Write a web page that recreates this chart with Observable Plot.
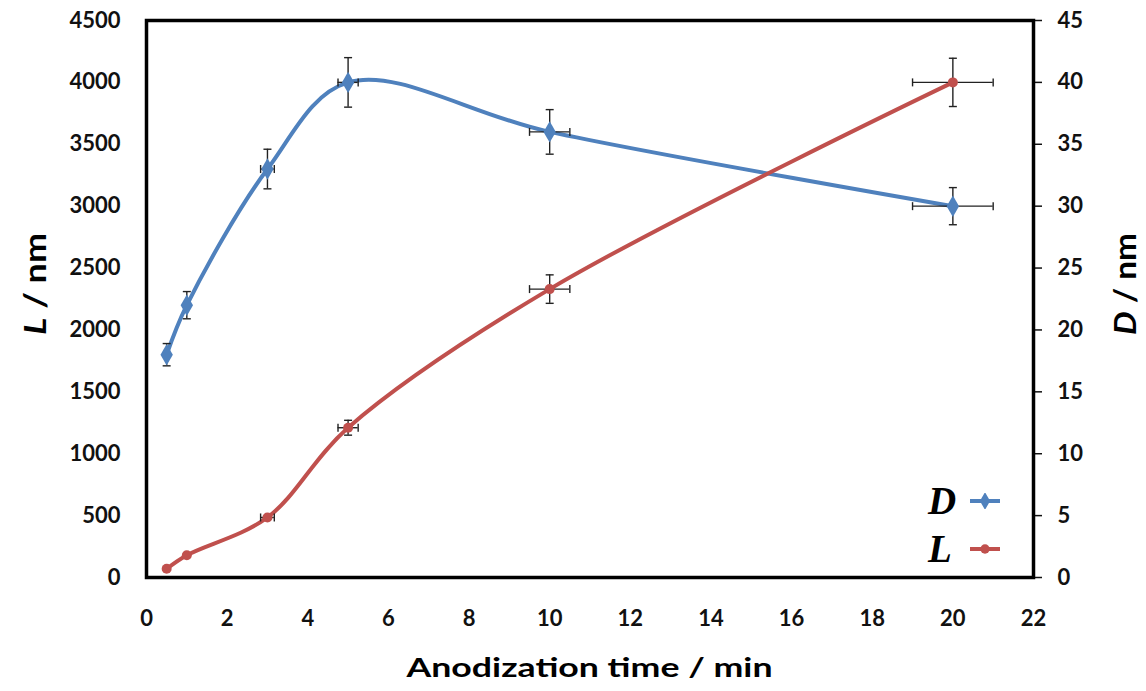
<!DOCTYPE html>
<html>
<head>
<meta charset="utf-8">
<script src="https://cdn.jsdelivr.net/npm/d3@7"></script>
<script src="https://cdn.jsdelivr.net/npm/@observablehq/plot@0.6"></script>
<style>
  html, body { margin: 0; padding: 0; background: #fff; }
  #wrap { position: relative; width: 1146px; height: 691px; }
  #legend { position: absolute; left: 928px; top: 477px; font-family: "Liberation Serif", "Times New Roman", serif; font-weight: bold; font-style: italic; font-size: 39px; line-height: 48px; }
  #legend .row { display: flex; align-items: center; height: 48px; }
  #legend .lab { width: 34px; text-align: left; }
  #legend svg { margin-left: 6px; }
</style>
</head>
<body>
<div id="wrap"><div id="chart"></div><div id="legend"></div></div>
<script>
// Data
const times = [0.5, 1, 3, 5, 10, 20];              // Anodization time / min
const dValues = [18, 22, 33, 40, 36, 30];          // D / nm (right axis)
const lValues = [70, 180, 485, 1210, 2330, 4000];  // L / nm (left axis)
const dErr = [0.9, 1.1, 1.6, 2.0, 1.8, 1.5];        // D vertical error
const lErr = [0, 0, 0, 60, 115, 195];               // L vertical error
const tErrD = [0, 0, 0.17, 0.25, 0.5, 1.0];         // time error on D points
const tErrL = [0, 0, 0.17, 0.25, 0.5, 1.0];         // time error on L points
const xTicks = [0, 2, 4, 6, 8, 10, 12, 14, 16, 18, 20, 22];
const lTicks = [0, 500, 1000, 1500, 2000, 2500, 3000, 3500, 4000, 4500];
const dTicks = [0, 5, 10, 15, 20, 25, 30, 35, 40, 45];
const K = 100; // D axis (0–45) maps onto L axis (0–4500)

const blue = "#4F81BD", red = "#C0504D", errColor = "#222";

const D = times.map((t, i) => ({t, v: dValues[i] * K, e: dErr[i] * K, te: tErrD[i]}));
const L = times.map((t, i) => ({t, v: lValues[i], e: lErr[i], te: tErrL[i]}));
const all = [...D, ...L];
const vErr = all.filter(d => d.e > 0);
const hErr = all.filter(d => d.te > 0);

const capH = {draw(ctx, size) { const r = Math.sqrt(size / Math.PI); ctx.moveTo(-r, 0); ctx.lineTo(r, 0); }};
const capV = {draw(ctx, size) { const r = Math.sqrt(size / Math.PI); ctx.moveTo(0, -r); ctx.lineTo(0, r); }};

const font = "Lato, 'Open Sans', sans-serif";
const fmt = v => String(v);

const chart = Plot.plot({
  width: 1146, height: 691,
  marginLeft: 146, marginRight: 113, marginTop: 20, marginBottom: 114,
  x: {domain: [0, 22]},
  y: {domain: [0, 4500]},
  style: {fontFamily: font, background: "white", color: "#111"},
  marks: [
    Plot.axisX(xTicks, {tickSize: 0, tickPadding: 33, label: null, tickFormat: fmt, fontSize: 22, fontWeight: "bold"}),
    Plot.axisY(lTicks, {anchor: "left", tickSize: 0, tickPadding: 26, label: null, tickFormat: fmt, fontSize: 22, fontWeight: "bold"}),
    Plot.axisY(dTicks.map(d => d * K), {anchor: "right", tickSize: 8, tickPadding: 16, strokeWidth: 1.5, label: null, tickFormat: v => String(v / K), fontSize: 22, fontWeight: "bold"}),
    Plot.line(D, {x: "t", y: "v", stroke: blue, strokeWidth: 4, curve: "catmull-rom"}),
    Plot.line(L, {x: "t", y: "v", stroke: red, strokeWidth: 4, curve: "catmull-rom"}),
    Plot.ruleX(vErr, {x: "t", y1: d => d.v - d.e, y2: d => d.v + d.e, stroke: errColor, strokeWidth: 1.4}),
    Plot.ruleY(hErr, {y: "v", x1: d => d.t - d.te, x2: d => d.t + d.te, stroke: errColor, strokeWidth: 1.4}),
    Plot.dot(vErr, {x: "t", y: d => d.v - d.e, symbol: capH, r: 4, stroke: errColor, strokeWidth: 1.4, fill: "none"}),
    Plot.dot(vErr, {x: "t", y: d => d.v + d.e, symbol: capH, r: 4, stroke: errColor, strokeWidth: 1.4, fill: "none"}),
    Plot.dot(hErr, {x: d => d.t - d.te, y: "v", symbol: capV, r: 4, stroke: errColor, strokeWidth: 1.4, fill: "none"}),
    Plot.dot(hErr, {x: d => d.t + d.te, y: "v", symbol: capV, r: 4, stroke: errColor, strokeWidth: 1.4, fill: "none"}),
    Plot.dot(D, {x: "t", y: "v", symbol: "diamond", r: 6.5, fill: blue}),
    Plot.dot(L, {x: "t", y: "v", symbol: "circle", r: 5, fill: red}),
    Plot.frame({stroke: "#000", strokeWidth: 3.5})
  ]
});
document.getElementById("chart").appendChild(chart);

// Axis titles
const svg = d3.select(chart);
svg.append("text")
  .attr("x", (146 + 1033) / 2).attr("y", 677)
  .attr("text-anchor", "middle")
  .attr("font-family", font).attr("font-weight", "bold").attr("font-size", 27).attr("fill", "#000")
  .attr("textLength", 366).attr("lengthAdjust", "spacingAndGlyphs")
  .text("Anodization time / min");

function yTitle(x, letter) {
  const t = svg.append("text")
    .attr("transform", `translate(${x},284) rotate(-90)`)
    .attr("text-anchor", "middle")
    .attr("font-family", font).attr("font-weight", "bold").attr("font-size", 30).attr("fill", "#000")
    .attr("textLength", 102).attr("lengthAdjust", "spacingAndGlyphs");
  t.append("tspan").attr("font-style", "italic").text(letter);
  t.append("tspan").text(" / nm");
}
yTitle(46, "L");
yTitle(1136, "D");

// Legend
const legend = d3.select("#legend");
[{name: "D", color: blue, sym: "diamond"}, {name: "L", color: red, sym: "circle"}].forEach(s => {
  const row = legend.append("div").attr("class", "row");
  row.append("span").attr("class", "lab").text(s.name);
  const ls = row.append("svg").attr("width", 34).attr("height", 16);
  ls.append("line").attr("x1", 2).attr("x2", 32).attr("y1", 8).attr("y2", 8).attr("stroke", s.color).attr("stroke-width", 4);
  const sym = s.sym === "diamond" ? d3.symbolDiamond : d3.symbolCircle;
  ls.append("path").attr("transform", "translate(17,8)").attr("d", d3.symbol(sym, s.sym === "diamond" ? 90 : 70)()).attr("fill", s.color);
});
</script>
</body>
</html>
